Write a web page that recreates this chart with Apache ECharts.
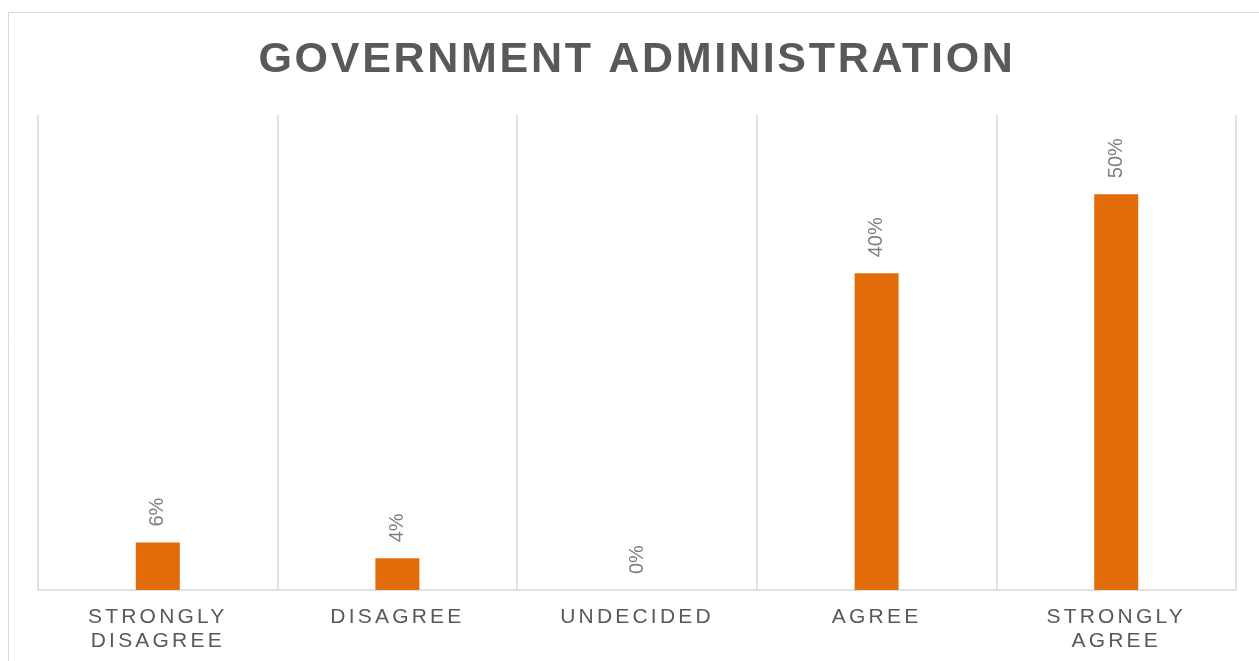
<!DOCTYPE html>
<html>
<head>
<meta charset="utf-8">
<title>Government Administration</title>
<script src="https://cdn.jsdelivr.net/npm/echarts@6/dist/echarts.min.js"></script>
<style>
  html, body { margin: 0; padding: 0; background: #ffffff; }
  #chart { width: 1259px; height: 661px; }
</style>
</head>
<body>
<div id="chart"></div>
<script>
// Survey responses
const categories = ['STRONGLY\nDISAGREE', 'DISAGREE', 'UNDECIDED', 'AGREE', 'STRONGLY\nAGREE'];
const shares = [6, 4, 0, 40, 50];
const chartTitle = 'GOVERNMENT ADMINISTRATION';

// Letter spacing per font size (title and category labels are tracked out)
const TRACKING = { 43: '2.7px', 21: '3.2px' };
(function () {
  const proto = CanvasRenderingContext2D.prototype;
  if (!('letterSpacing' in proto)) return;
  const spacingFor = function (font) {
    const m = /(\d+(?:\.\d+)?)px/.exec(font || '');
    return (m && TRACKING[Math.round(parseFloat(m[1]))]) || '0px';
  };
  const fill = proto.fillText, stroke = proto.strokeText, measure = proto.measureText;
  proto.fillText = function () { this.letterSpacing = spacingFor(this.font); return fill.apply(this, arguments); };
  proto.strokeText = function () { this.letterSpacing = spacingFor(this.font); return stroke.apply(this, arguments); };
  proto.measureText = function () { this.letterSpacing = spacingFor(this.font); return measure.apply(this, arguments); };
})();

const FONT = "'Liberation Sans', Arial, sans-serif";
const chart = echarts.init(document.getElementById('chart'), null, { renderer: 'canvas' });

chart.setOption({
  backgroundColor: '#ffffff',
  animation: false,
  graphic: [{
    type: 'rect',
    silent: true,
    shape: { x: 8.5, y: 12.5, width: 1300, height: 700 },
    style: { fill: 'none', stroke: '#d9d9d9', lineWidth: 1 }
  }],
  title: {
    text: chartTitle,
    left: 632,
    top: 32,
    textAlign: 'center',
    textStyle: { fontFamily: FONT, fontSize: 43, fontWeight: 'bold', color: '#595959' }
  },
  grid: { left: 38, right: 23, top: 115, bottom: 71, containLabel: false },
  xAxis: {
    type: 'category',
    data: categories,
    boundaryGap: true,
    axisLine: { show: true, lineStyle: { color: '#d9d9d9', width: 1.5 } },
    axisTick: { show: false },
    splitLine: { show: true, lineStyle: { color: '#d9d9d9', width: 1.5 } },
    axisLabel: {
      interval: 0,
      margin: 15,
      fontFamily: FONT,
      fontSize: 21,
      lineHeight: 24,
      color: '#595959'
    }
  },
  yAxis: {
    type: 'value',
    min: 0,
    max: 60,
    show: false,
    splitLine: { show: false }
  },
  series: [{
    type: 'bar',
    data: shares,
    barWidth: 44,
    itemStyle: { color: '#e36c0a' },
    label: {
      show: true,
      position: 'top',
      distance: 16,
      rotate: 90,
      align: 'left',
      verticalAlign: 'middle',
      formatter: '{c}%',
      fontFamily: FONT,
      fontSize: 20,
      color: '#7f7f7f'
    }
  }]
});
</script>
</body>
</html>
